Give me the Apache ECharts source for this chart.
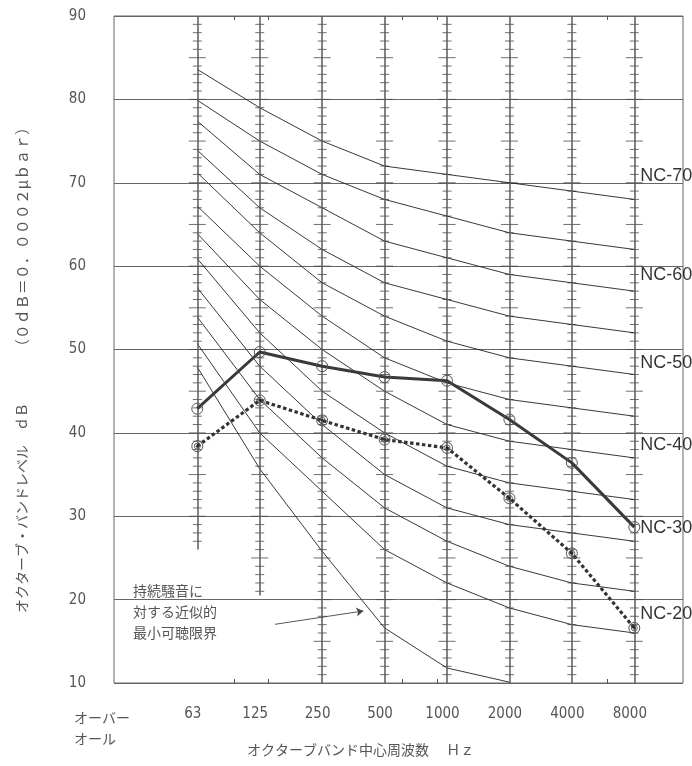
<!DOCTYPE html>
<html><head><meta charset="utf-8">
<script src="https://cdn.jsdelivr.net/npm/echarts@6/dist/echarts.min.js"></script>
<style>html,body{margin:0;padding:0;background:#fff}#c{width:692px;height:766px}</style>
</head><body><div id="c"></div>
<script>
// ---- data ----
const freqLabels = ['63','125','250','500','1000','2000','4000','8000'];
const freqIndex  = [1,2,3,4,5,6,7,8];
const ncNames = ['NC-70','NC-65','NC-60','NC-55','NC-50','NC-45','NC-40','NC-35','NC-30','NC-25','NC-20'];
const nc70 = [83.6,79,75,72,71,70,69,68];
const nc65 = [79.9,75,71,68,66,64,63,62];
const nc60 = [77.4,71,67,63,61,59,58,57];
const nc55 = [73.9,67,62,58,56,54,53,52];
const nc50 = [71.2,64,58,54,51,49,48,47];
const nc45 = [67.2,60,54,49,46,44,43,42];
const nc40 = [63.9,56,50,45,41,39,38,37];
const nc35 = [60.9,52,45,40,36,34,33,32];
const nc30 = [57.4,48,41,35,31,29,28,27];
const nc25 = [53.9,44,37,31,27,24,22,21];
const nc20 = [50.7,40,33,26,22,19,17,16];
const thresholdCurve = [47.9,35.7,25.8,16.6,11.8,10.1]; // 63..2000 Hz
const measuredSolid  = [42.9,49.7,48.0,46.7,46.25,41.6,36.4,28.7];
const measuredDashed = [38.4,43.9,41.5,39.2,38.2,32.15,25.55,16.6];
const ncLabelTexts  = ['NC-70','NC-60','NC-50','NC-40','NC-30','NC-20'];
const ncLabelLevels = [70.8,58.9,48.4,38.5,28.6,18.3];
const scaleLow = [26,20.5,10,10,10,10,10,10];   // lower end of each band's dB scale
const borderTicks = [1.60,2.13,4.29,4.85,7.56];
const arrowFrom = [2.245,17.04], arrowTo = [3.66,18.64];

const ncCurves = [nc70,nc65,nc60,nc55,nc50,nc45,nc40,nc35,nc30,nc25,nc20];

const numFont = "'Liberation Sans Narrow','DejaVu Sans Condensed',sans-serif";
const jpFont = "'Noto Sans CJK JP',sans-serif";
const txtColor = '#555';

const chart = echarts.init(document.getElementById('c'), null, {renderer:'canvas'});

const series = [];
// band scale lines
series.push({
  type:'line', data:[], silent:true, z:1,
  markLine:{silent:true, symbol:'none', label:{show:false},
    lineStyle:{color:'#5a5a5a', width:1.5, type:'solid'},
    data: freqIndex.map((x,i)=>[{coord:[x,scaleLow[i]]},{coord:[x,90]}])}
});
// band scale ticks
const tickData = [];
freqIndex.forEach((x,i)=>{
  for (let v=Math.floor(scaleLow[i])+1; v<90; v++) tickData.push([x,v]);
});
series.push({
  type:'scatter', data:tickData, silent:true, z:2, symbol:'rect',
  symbolSize:(val)=> (val[1]%5===0 ? [17,1] : [9,1]),
  itemStyle:{color:'#4a4a4a'}
});
// NC curves
ncCurves.forEach((arr,k)=>{
  series.push({type:'line', name:ncNames[k], data:freqIndex.map((x,i)=>[x,arr[i]]),
    symbol:'none', silent:true, z:3, lineStyle:{color:'#222', width:0.9}});
});
// threshold curve
series.push({type:'line', name:'threshold', data:thresholdCurve.map((v,i)=>[freqIndex[i],v]),
  symbol:'none', silent:true, z:3, lineStyle:{color:'#222', width:0.9},
  markLine:{silent:true, symbol:['none','arrow'], symbolSize:7, label:{show:false},
    lineStyle:{color:'#444', width:0.9, type:'solid'},
    data:[[{coord:arrowFrom},{coord:arrowTo}]]}
});
// measured solid
series.push({type:'line', name:'solid', data:freqIndex.map((x,i)=>[x,measuredSolid[i]]),
  z:5, symbol:'circle', symbolSize:11,
  lineStyle:{color:'#3a3a3a', width:3},
  itemStyle:{color:'rgba(255,255,255,0)', borderColor:'#555', borderWidth:1}});
// measured dashed
series.push({type:'line', name:'dashed', data:freqIndex.map((x,i)=>[x,measuredDashed[i]]),
  z:5, symbol:'circle', symbolSize:11,
  lineStyle:{color:'#333', width:3.2, type:[3.5,2.5]},
  itemStyle:{color:'rgba(255,255,255,0)', borderColor:'#555', borderWidth:1}});
series.push({type:'scatter', data:freqIndex.map((x,i)=>[x,measuredDashed[i]]), z:6, silent:true,
  symbol:'circle', symbolSize:6, itemStyle:{color:'rgba(255,255,255,0)', borderColor:'#444', borderWidth:1}});
series.push({type:'scatter', data:freqIndex.map((x,i)=>[x,measuredDashed[i]]), z:6, silent:true,
  symbol:'circle', symbolSize:3, itemStyle:{color:'#222'}});
// NC labels
series.push({type:'scatter', data:ncLabelLevels.map((v,i)=>({value:[8,v], name:ncLabelTexts[i]})),
  z:7, silent:true, symbolSize:0.1,
  label:{show:true, formatter:p=>p.name, position:[6,0], align:'left', verticalAlign:'middle',
    fontFamily:"'Liberation Sans',Arial,sans-serif", fontSize:18, color:'#000'}});

chart.setOption({
  animation:false,
  backgroundColor:'#fff',
  grid:{left:114, top:16, width:569, height:667, show:true, borderColor:'#666', borderWidth:1, containLabel:false},
  xAxis:[{
    type:'value', min:-0.334, max:8.78, position:'bottom',
    axisLine:{show:false}, splitLine:{show:false},
    axisTick:{show:true, inside:true, length:4, customValues:borderTicks, lineStyle:{color:'#555'}},
    axisLabel:{show:true, customValues:freqIndex, margin:24,
      formatter:v=>freqLabels[freqIndex.indexOf(Math.round(v))] || '',
      fontFamily:numFont, fontSize:15, color:txtColor, padding:[0,9,0,0]}
  },{
    type:'value', min:-0.334, max:8.78, position:'top',
    axisLine:{show:false}, splitLine:{show:false}, axisLabel:{show:false},
    axisTick:{show:true, inside:true, length:4, customValues:borderTicks, lineStyle:{color:'#555'}}
  }],
  yAxis:{type:'value', min:10, max:90, interval:10,
    axisLine:{show:false}, axisTick:{show:false},
    splitLine:{show:true, lineStyle:{color:'#666', width:1}},
    axisLabel:{margin:28, fontFamily:numFont, fontSize:15, color:txtColor}},
  graphic:[
    {type:'text', x:22, y:237, rotation:Math.PI/2, style:{text:'（０ｄＢ＝０．０００２μｂａｒ）', font:"15px "+jpFont, fill:txtColor, align:'center', verticalAlign:'middle'}},
    {type:'text', x:22, y:508, rotation:Math.PI/2, style:{text:'オクターブ・バンドレベル　ｄＢ', font:"14px "+jpFont, fill:txtColor, align:'center', verticalAlign:'middle'}},
    {type:'text', x:74, y:718, style:{text:'オーバー', font:"14px "+jpFont, fill:txtColor, align:'left', verticalAlign:'middle'}},
    {type:'text', x:74, y:739, style:{text:'オール', font:"14px "+jpFont, fill:txtColor, align:'left', verticalAlign:'middle'}},
    {type:'text', x:247, y:750, style:{text:'オクターブバンド中心周波数　 Ｈｚ', font:"14px "+jpFont, fill:txtColor, align:'left', verticalAlign:'middle'}},
    {type:'text', x:133, y:612, style:{text:'持続騒音に\n対する近似的\n最小可聴限界', font:"14px "+jpFont, fill:txtColor, align:'left', verticalAlign:'middle', lineHeight:21}}
  ],
  series:series
});
</script></body></html>
